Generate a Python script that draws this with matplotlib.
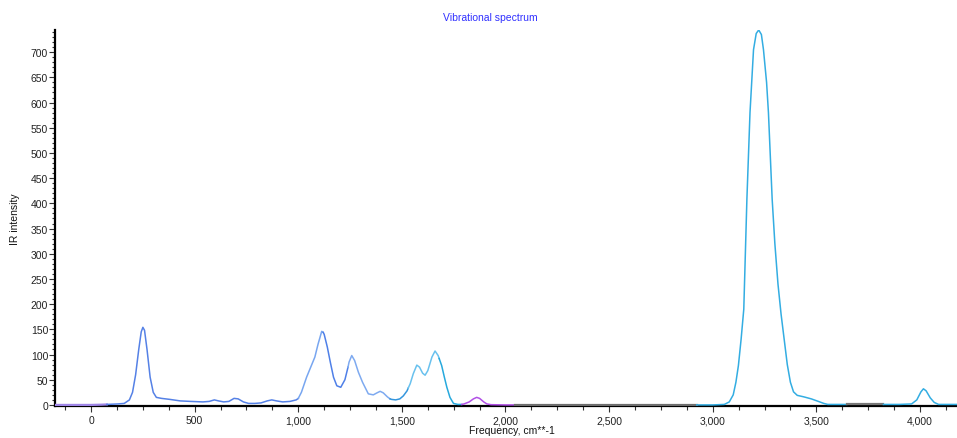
"""Vibrational (IR) spectrum, coloured by frequency region."""

import numpy
from matplotlib import pyplot
from matplotlib.ticker import FuncFormatter, MultipleLocator

# Spectrum (cm**-1, IR intensity).
freq = [
    -175, 0, 50, 76, 130, 160, 185, 200, 215, 230, 242, 250, 258, 270, 285,
    300, 315, 340, 380, 430, 480, 540, 570, 595, 615, 640, 665, 690, 710,
    735, 760, 790, 820, 850, 872, 895, 925, 960, 990, 1000, 1015, 1040, 1060,
    1080, 1095, 1113, 1120, 1125, 1140, 1155, 1170, 1186, 1205, 1225, 1240,
    1245, 1258, 1272, 1290, 1310, 1338, 1362, 1380, 1395, 1410, 1430, 1443,
    1450, 1470, 1490, 1507, 1525, 1530, 1540, 1555, 1572, 1585, 1600, 1612,
    1625, 1645, 1660, 1675, 1680, 1692, 1705, 1717, 1732, 1749, 1770, 1789,
    1800, 1825, 1845, 1861, 1875, 1895, 1910, 1930, 2000, 2046, 2500, 2923,
    3000, 3056, 3080, 3099, 3112, 3124, 3137, 3150, 3165, 3180, 3197, 3210,
    3222, 3235, 3245, 3260, 3269, 3287, 3300, 3315, 3330, 3345, 3360, 3375,
    3390, 3408, 3440, 3476, 3510, 3536, 3555, 3600, 3647, 3700, 3824, 3900,
    3960, 3985, 4005, 4017, 4030, 4050, 4069, 4090, 4180,
]
intensity = [
    0, 0, 0.5, 1, 2, 3, 10, 25, 60, 110, 145, 154, 148, 110, 55,
    25, 15, 13, 11, 8, 7, 6, 7, 10, 8, 6, 7, 13, 12,
    6, 3, 3, 4, 8, 10, 8, 6, 7, 10, 13, 25, 55, 75,
    95, 120, 146, 144, 140, 115, 84, 55, 38, 35, 50, 75,
    85, 98, 88, 65, 45, 22, 20, 24, 27, 24, 16, 12,
    11, 10, 12, 18, 28, 33, 42, 62, 79, 75, 63, 59,
    68, 95, 107, 98, 92, 78, 55, 35, 15, 3, 1, 1,
    2, 6, 12, 15, 13, 6, 2, 0.5, 0, 0, 0, 0,
    0, 1, 6, 20, 45, 78, 130, 190, 408, 580, 705, 737,
    744, 735, 705, 640, 580, 408, 320, 240, 180, 130, 80, 45,
    26, 19, 16, 12, 7, 3, 1, 1, 1, 1, 1, 1,
    2, 10, 26, 32, 28, 14, 5, 1, 1,
]

# Colour regions of the trace.
region_edges = [-175, 76, 1000, 1120, 1240, 1443, 1530, 1680, 1789, 2046,
                2923, 3647, 3824, 4180]
region_colors = ['#9f86e6', '#5581e6', '#78a6f0', '#4f80e8', '#7eaaf0',
                 '#3596dd', '#69c1ee', '#27a9dd', '#b150e6', '#6e6e6e',
                 '#33ade2', '#777777', '#33ade2']

freq = numpy.array(freq, dtype=float)
intensity = numpy.array(intensity, dtype=float)

pyplot.rc('font', family=['Liberation Sans', 'DejaVu Sans'], size=7.5)

fig = pyplot.figure(figsize=(9.57, 4.39), dpi=100)
ax = fig.add_axes([0.0575, 0.0736, 0.9425, 0.8564])

for lo, hi, color in zip(region_edges[:-1], region_edges[1:], region_colors):
    mask = (freq >= lo) & (freq <= hi)
    lw = 1.6 if color in ('#6e6e6e', '#777777', '#9f86e6') else 1.1
    ax.plot(freq[mask], intensity[mask], color=color, linewidth=lw,
            solid_joinstyle='round', zorder=3)

ax.set_xlim(-174, 4179)
ax.set_ylim(-1.5, 744.5)

ax.spines['top'].set_visible(False)
ax.spines['right'].set_visible(False)
for side in ('left', 'bottom'):
    ax.spines[side].set_linewidth(1.6)
    ax.spines[side].set_color('black')

ax.xaxis.set_major_locator(MultipleLocator(500))
ax.xaxis.set_minor_locator(MultipleLocator(125))
ax.yaxis.set_major_locator(MultipleLocator(50))
ax.yaxis.set_minor_locator(MultipleLocator(10))
ax.xaxis.set_major_formatter(FuncFormatter(lambda v, pos: f'{v:,.0f}'))
ax.tick_params(axis='both', which='both', direction='out',
               colors='#333333', labelcolor='#222222', width=0.8)
ax.tick_params(axis='x', which='major', length=4, pad=3)
ax.tick_params(axis='x', which='minor', length=3)
ax.tick_params(axis='y', which='major', length=4, pad=1)
ax.tick_params(axis='y', which='minor', length=2)

ax.set_xlabel('Frequency, cm**-1', color='#111111')
ax.xaxis.set_label_coords(0.507, -0.052)
ax.set_ylabel('IR intensity', color='#111111')
ax.yaxis.set_label_coords(-0.039, 0.5)

fig.text(0.512, 0.958, 'Vibrational spectrum', color='#3030ff',
         ha='center', va='center', fontsize=7.5)

fig.savefig('out.png', dpi=100)
